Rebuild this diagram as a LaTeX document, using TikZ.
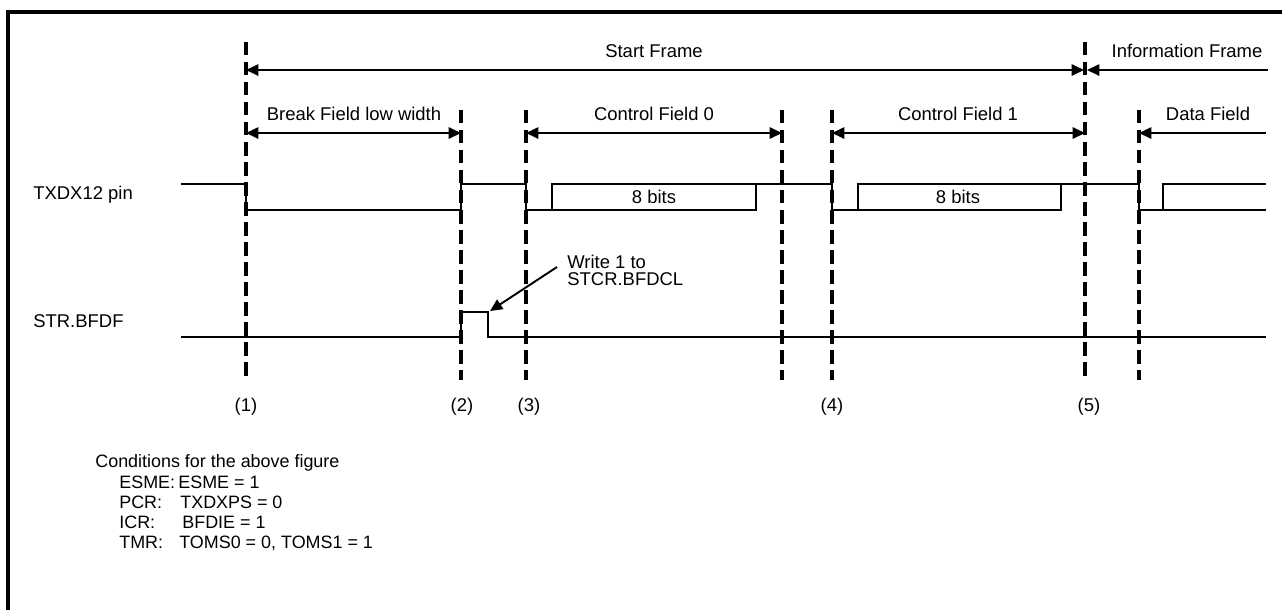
\documentclass[tikz,border=0pt]{standalone}
\usepackage{fontspec}
\setmainfont{Liberation Sans}
\usetikzlibrary{arrows.meta}
\begin{document}
\begin{tikzpicture}[x=0.02cm,y=-0.02cm,
  every node/.style={font=\fontsize{10.5}{12}\selectfont,inner sep=0pt,text height=7.5pt,text depth=0pt},
  cond/.style={anchor=west,font=\fontsize{10.2}{12}\selectfont},
  timeline/.style={line width=1.9pt,dash pattern=on 7.6pt off 3.8pt},
  wave/.style={line width=1.1pt},
  span/.style={line width=1.1pt,{Triangle[length=7pt,width=6.4pt]}-{Triangle[length=7pt,width=6.4pt]}},
  halfspan/.style={line width=1.1pt,-{Triangle[length=7pt,width=6.4pt]}}]
\useasboundingbox (0,0) rectangle (1282,610);
\draw[line width=2pt] (8,610) -- (8,12) -- (1282,12);
% time marks
\foreach \n/\x/\y in {t1/246/42,t2/461/110,t3/526/110,e0/782/110,t4/832/110,t5/1085/42,d0/1139/110}{
  \coordinate (\n) at (\x,\y);
  \coordinate (\n-bot) at (\x,380);
  \draw[timeline] (\n) -- (\n-bot);
}
% frames
\coordinate (sfL) at (246,70);
\coordinate (sfR) at (1084,70);
\coordinate (ifL) at (1087,70);
\coordinate (ifR) at (1268,70);
\draw[span] (sfL) -- (sfR);
\draw[halfspan] (ifR) -- (ifL);
\node (sf) at (654,51) {Start Frame};
\node (if) at (1187,51) {Information Frame};
% fields
\coordinate (r2) at (0,133);
\coordinate (dfR) at (1266,133);
\draw[span] (t1 |- r2) -- (t2 |- r2);
\draw[span] (t3 |- r2) -- (e0 |- r2);
\draw[span] (t4 |- r2) -- (t5 |- r2);
\draw[halfspan] (dfR) -- (d0 |- r2);
\node (bf) at (354,114) {Break Field low width};
\node (cf0) at (654,114) {Control Field 0};
\node (cf1) at (958,114) {Control Field 1};
\node (df) at (1208,114) {Data Field};
% TXDX12 pin
\node[anchor=west] (txd) at (33,193) {TXDX12 pin};
\draw[wave] (181,184) -- (246,184) -- (246,210) -- (461,210) -- (461,184) -- (526,184)
  -- (526,210) -- (552,210) -- (552,184) -- (832,184) -- (832,210) -- (858,210)
  -- (858,184) -- (1139,184) -- (1139,210) -- (1163,210) -- (1163,184) -- (1266,184);
\draw[wave] (552,210) -- (756,210) -- (756,184);
\draw[wave] (858,210) -- (1061,210) -- (1061,184);
\draw[wave] (1163,210) -- (1266,210);
\node (b0) at (654,197) {8 bits};
\node (b1) at (958,197) {8 bits};
% STR.BFDF
\node[anchor=west] (bfdf) at (33,321) {STR.BFDF};
\draw[wave] (181,337) -- (461,337) -- (461,312) -- (488,312) -- (488,337) -- (1266,337);
\coordinate (pk) at (490,311);
\coordinate (wt) at (557,267);
\node[anchor=west] (wr1) at (567,262) {Write 1 to};
\node[anchor=west] (wr2) at (567,279) {STCR.BFDCL};
\draw[halfspan] (wt) -- (pk);
% numbers
\node (n1) at (246,405) {(1)};
\node (n2) at (462,405) {(2)};
\node (n3) at (529,405) {(3)};
\node (n4) at (832,405) {(4)};
\node (n5) at (1089,405) {(5)};
% conditions
\node[cond] (cnd) at (95,461) {Conditions for the above figure};
\node[cond] (c1) at (119,482) {ESME:};
\node[cond] (v1) at (178,482) {ESME = 1};
\node[cond] (c2) at (119,502) {PCR:};
\node[cond] (v2) at (180,502) {TXDXPS = 0};
\node[cond] (c3) at (119,522) {ICR:};
\node[cond] (v3) at (182,522) {BFDIE = 1};
\node[cond] (c4) at (119,542) {TMR:};
\node[cond] (v4) at (179,542) {TOMS0 = 0, TOMS1 = 1};
\end{tikzpicture}
\end{document}
